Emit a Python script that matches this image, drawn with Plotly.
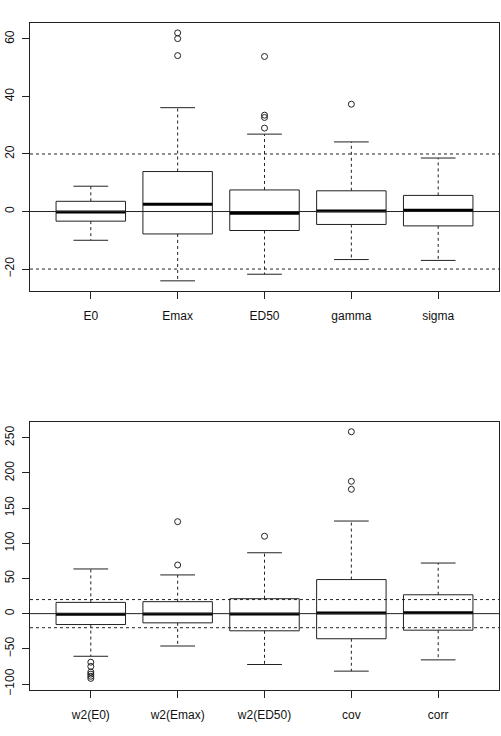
import plotly.graph_objects as go

# ---- data ----
top_labels = ["E0", "Emax", "ED50", "gamma", "sigma"]
top_lower = [-10.0, -24.1, -21.8, -16.7, -17.0]
top_q1 = [-3.35, -7.8, -6.6, -4.5, -5.0]
top_med = [-0.2, 2.5, -0.6, 0.2, 0.45]
top_q3 = [3.55, 13.9, 7.5, 7.2, 5.6]
top_upper = [8.8, 36.1, 26.9, 24.2, 18.6]
top_outliers = [[], [62.1, 60.1, 54.2], [53.9, 33.5, 32.7, 29.0], [37.3], []]

bot_labels = ["w2(E0)", "w2(Emax)", "w2(ED50)", "cov", "corr"]
bot_lower = [-60.6, -46.0, -72.3, -81.7, -65.7]
bot_q1 = [-15.5, -13.1, -24.4, -35.7, -23.5]
bot_med = [-0.9, -0.5, -0.4, 1.0, 1.4]
bot_q3 = [16.0, 17.0, 21.2, 48.4, 26.8]
bot_upper = [63.5, 55.0, 86.5, 131.6, 71.9]
bot_outliers = [[-69, -75, -83, -86, -89, -92], [130.7, 69.1], [110], [258.5, 188, 176.7], []]

ref_dashed = [-20, 20]
ref_solid = [0]

# ---- style ----
BOX_HALF = 0.4
CAP_HALF = 0.2
LINE_COL = "#222222"
FONT = dict(family="Liberation Sans, Arial, sans-serif", size=12, color="#111111")

fig = go.Figure()


def add_panel(labels, lower, q1, med, q3, upper, outliers, xa, ya):
    bx, by, wx, wy, cx, cy, mx, my, ox, oy = ([] for _ in range(10))
    for i, lab in enumerate(labels):
        p = i + 1
        bx += [p - BOX_HALF, p + BOX_HALF, p + BOX_HALF, p - BOX_HALF, p - BOX_HALF, None]
        by += [q1[i], q1[i], q3[i], q3[i], q1[i], None]
        wx += [p, p, None, p, p, None]
        wy += [q3[i], upper[i], None, q1[i], lower[i], None]
        cx += [p - CAP_HALF, p + CAP_HALF, None, p - CAP_HALF, p + CAP_HALF, None]
        cy += [upper[i], upper[i], None, lower[i], lower[i], None]
        mx += [p - BOX_HALF, p + BOX_HALF, None]
        my += [med[i], med[i], None]
        for v in outliers[i]:
            ox.append(p)
            oy.append(v)
    common = dict(xaxis=xa, yaxis=ya, showlegend=False, hoverinfo="skip")
    fig.add_trace(go.Scatter(x=wx, y=wy, mode="lines",
                             line=dict(color=LINE_COL, width=1, dash="3px,3px"), **common))
    fig.add_trace(go.Scatter(x=cx, y=cy, mode="lines",
                             line=dict(color=LINE_COL, width=1), **common))
    fig.add_trace(go.Scatter(x=bx, y=by, mode="lines",
                             line=dict(color=LINE_COL, width=1), **common))
    fig.add_trace(go.Scatter(x=ox, y=oy, mode="markers",
                             marker=dict(symbol="circle-open", size=6, color=LINE_COL,
                                         line=dict(width=1, color=LINE_COL)), **common))
    for v in ref_dashed:
        fig.add_shape(type="line", xref=xa + " domain", yref=ya, x0=0, x1=1, y0=v, y1=v,
                      line=dict(color=LINE_COL, width=1, dash="3px,3px"))
    for v in ref_solid:
        fig.add_shape(type="line", xref=xa + " domain", yref=ya, x0=0, x1=1, y0=v, y1=v,
                      line=dict(color=LINE_COL, width=1))
    fig.add_trace(go.Scatter(x=mx, y=my, mode="lines",
                             line=dict(color="black", width=3), **common))


add_panel(top_labels, top_lower, top_q1, top_med, top_q3, top_upper, top_outliers, "x", "y")
add_panel(bot_labels, bot_lower, bot_q1, bot_med, bot_q3, bot_upper, bot_outliers, "x2", "y2")

W, H = 501, 736
xdom = [30 / W, 499 / W]
xcommon = dict(range=[0.3, 5.7], showgrid=False, zeroline=False, showline=True, mirror=True,
               linecolor=LINE_COL, linewidth=1, ticks="outside", ticklen=7, tickcolor=LINE_COL,
               tickfont=FONT, domain=xdom, tickvals=[1, 2, 3, 4, 5], ticklabelstandoff=7)
ycommon = dict(showgrid=False, zeroline=False, showline=True, mirror=True,
               linecolor=LINE_COL, linewidth=1, ticks="outside", ticklen=7, tickcolor=LINE_COL,
               tickfont=FONT, tickangle=-90, ticklabelstandoff=3)

fig.update_layout(
    width=W, height=H,
    margin=dict(l=0, r=0, t=0, b=0),
    paper_bgcolor="white", plot_bgcolor="white",
    xaxis=dict(xcommon, anchor="y", ticktext=top_labels),
    yaxis=dict(ycommon, anchor="x", range=[-27.6, 65.5], tickvals=[-20, 0, 20, 40, 60],
               domain=[1 - 293.3 / H, 1 - 23.3 / H]),
    xaxis2=dict(xcommon, anchor="y2", ticktext=bot_labels),
    yaxis2=dict(ycommon, anchor="x2", range=[-108, 273],
                tickvals=[-100, -50, 0, 50, 100, 150, 200, 250],
                domain=[1 - 695.3 / H, 1 - 425 / H]),
)

fig.write_html("out.html")
